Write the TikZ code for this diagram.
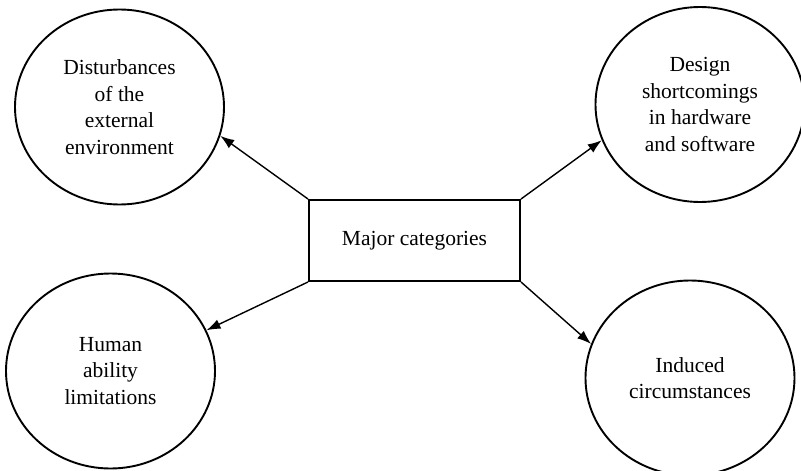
\documentclass[tikz,border=0pt]{standalone}
\usepackage{fontspec}
\setmainfont{Liberation Serif}
\usetikzlibrary{shapes.geometric,arrows.meta}
\begin{document}
\begin{tikzpicture}[x=1pt,y=-1pt,
  oval/.style={draw=black,line width=1.9pt,ellipse,minimum width=209pt,minimum height=195pt,inner sep=0pt,align=center,font=\fontsize{21.5}{26.5}\selectfont},
  catbox/.style={draw=black,line width=2pt,rectangle,minimum width=211pt,minimum height=81pt,inner sep=0pt,font=\fontsize{21.5}{26.5}\selectfont},
  conn/.style={line width=1.4pt,-{Latex[length=14pt,width=10pt]}}]
\useasboundingbox (0,0) rectangle (801,471);
\node[catbox] (box) at (414.5,240.5) {Major categories};
\node[oval] (e1) at (119.5,107) {Disturbances\\of the\\external\\environment};
\node[oval] (e2) at (700,104.5) {Design\\shortcomings\\in hardware\\and software};
\node[oval] (e3) at (110.5,371) {Human\\ability\\limitations};
\node[oval] (e4) at (690,378) {Induced\\circumstances};
\draw[conn] (box.north west) -- (e1.-16);
\draw[conn] (box.north east) -- (e2.200);
\draw[conn] (box.south west) -- (e3.23);
\draw[conn] (box.south east) -- (e4.161);
\end{tikzpicture}
\end{document}
